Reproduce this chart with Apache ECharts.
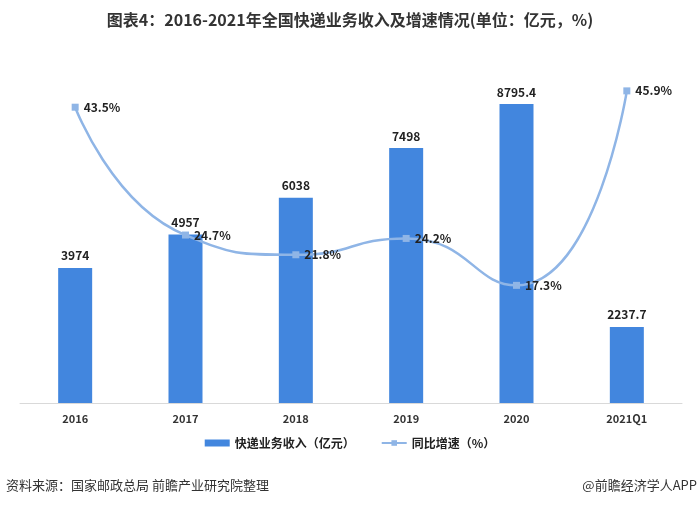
<!DOCTYPE html>
<html><head><meta charset="utf-8">
<script src="https://cdn.jsdelivr.net/npm/echarts@6/dist/echarts.min.js"></script>
<style>html,body{margin:0;padding:0;background:#fff}#c{width:700px;height:507px}</style>
</head><body><div id="c"></div>
<script>
var categories = ['2016','2017','2018','2019','2020','2021Q1'];
var revenue = [3974, 4957, 6038, 7498, 8795.4, 2237.7];
var growth = [43.5, 24.7, 21.8, 24.2, 17.3, 45.9];
var revenueLabels = ['3974','4957','6038','7498','8795.4','2237.7'];

var font = '"Noto Sans CJK SC", "Microsoft YaHei", sans-serif';
var chart = echarts.init(document.getElementById('c'));
chart.setOption({
  animation: false,
  backgroundColor: '#fff',
  title: {
    text: '图表4：2016-2021年全国快递业务收入及增速情况(单位：亿元，%)',
    left: 'center', top: 7,
    textStyle: {fontFamily: font, fontSize: 16, fontWeight: 'bold', color: '#333'}
  },
  legend: {
    bottom: 53, left: 'center', itemGap: 26, itemWidth: 25, itemHeight: 7,
    textStyle: {fontFamily: font, fontSize: 12, fontWeight: 'bold', color: '#222'},
    data: [
      {name: '快递业务收入（亿元）', icon: 'rect'},
      {name: '同比增速（%）'}
    ]
  },
  grid: {left: 20, right: 18, top: 63, bottom: 104},
  xAxis: {
    type: 'category', data: categories,
    axisLine: {lineStyle: {color: '#d9d9d9'}},
    axisTick: {show: false},
    axisLabel: {fontFamily: font, fontSize: 11, fontWeight: 'bold', color: '#333', margin: 10}
  },
  yAxis: [
    {type: 'value', min: 0, max: 10000, show: false, splitLine: {show: false}},
    {type: 'value', min: 0, max: 50, show: false, splitLine: {show: false}}
  ],
  series: [
    {
      name: '快递业务收入（亿元）', type: 'bar', data: revenue, barWidth: 34,
      itemStyle: {color: '#4286de'},
      label: {show: true, position: 'top', distance: 6,
        formatter: function(p){return revenueLabels[p.dataIndex];},
        fontFamily: font, fontSize: 12, fontWeight: 'bold', color: '#222'}
    },
    {
      name: '同比增速（%）', type: 'line', yAxisIndex: 1, data: growth, smooth: 0.55,
      symbol: 'rect', symbolSize: 7,
      lineStyle: {color: '#8fb5e6', width: 2.5},
      itemStyle: {color: '#8fb5e6'},
      label: {show: true, position: 'right', distance: 5,
        formatter: function(p){return p.value.toFixed(1) + '%';},
        fontFamily: font, fontSize: 12, fontWeight: 'bold', color: '#222'}
    }
  ],
  graphic: [
    {type: 'text', left: 6, top: 479, style: {text: '资料来源：国家邮政总局 前瞻产业研究院整理', font: '13px ' + font, fill: '#333'}},
    {type: 'text', right: 3, top: 479, style: {text: '@前瞻经济学人APP', font: '13px ' + font, fill: '#333'}}
  ]
});
</script></body></html>
